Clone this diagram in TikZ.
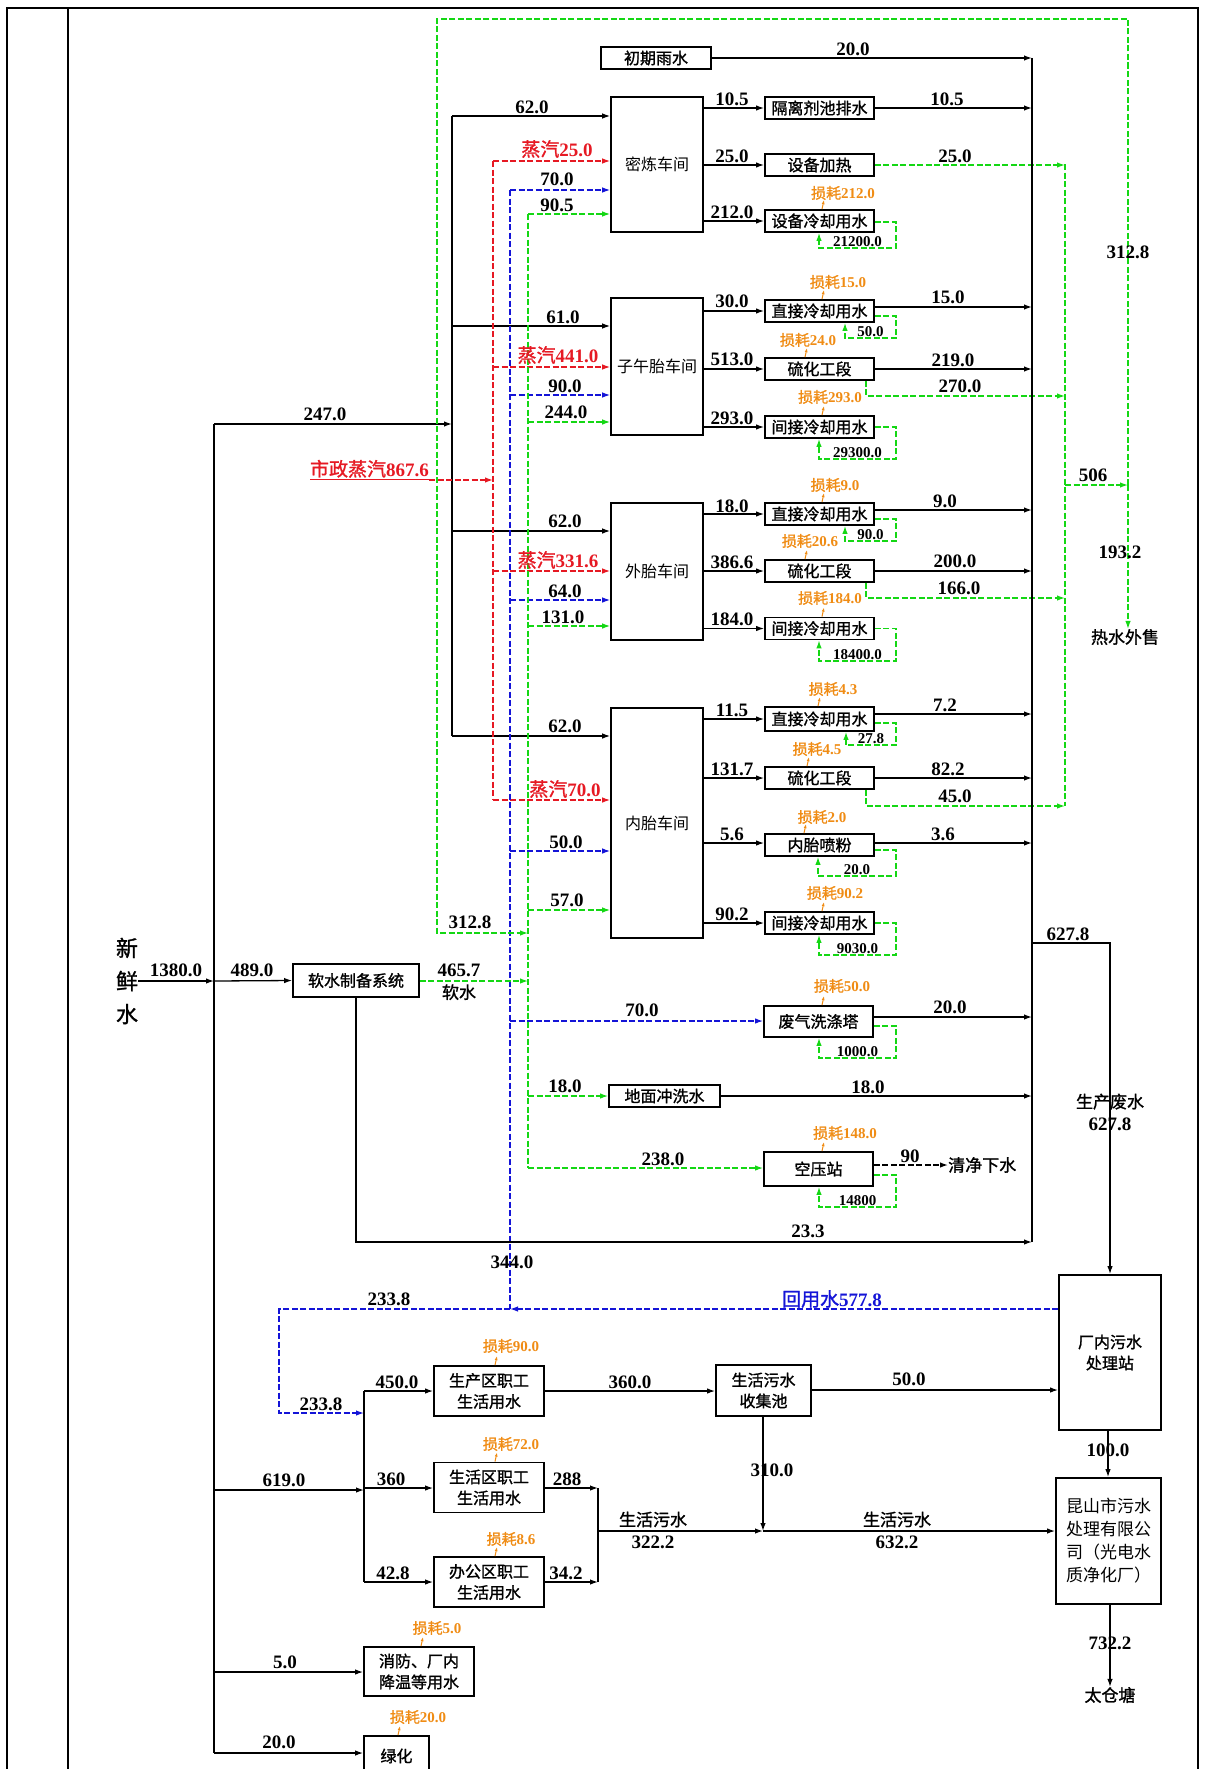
\documentclass[tikz,border=0pt]{standalone}
\usepackage{fontspec}
\setmainfont{Liberation Serif}
\newfontfamily\cjk{Noto Sans CJK SC}
\newfontfamily\cjkb{Noto Sans CJK SC}[FakeBold=1.3]
\usetikzlibrary{arrows.meta}
\definecolor{gr}{RGB}{20,215,20}
\definecolor{bl}{RGB}{20,20,215}
\definecolor{rd}{RGB}{230,25,35}
\definecolor{org}{RGB}{240,140,20}
\newcommand\zhf{\cjkb\mdseries\fontsize{16}{21}\selectfont}
\newcommand\zhw{\cjk\mdseries\fontsize{16}{21}\selectfont}
\newcommand\zhs{\cjkb\mdseries\fontsize{17}{21}\selectfont}
\newcommand\zl[1]{{\cjkb\mdseries #1}}
\newcommand\nf{\bfseries\fontsize{19}{22}\selectfont}
\newcommand\lf{\bfseries\fontsize{15}{17}\selectfont}
\newcommand\nlab[4]{\node[lb] (#1) at (#2,#3) {#4};}
\newcommand\wloop[6]{% name, box, ystart, ybottom, xleft, label
  \draw[gd,tip] (#2.east |- 0,#3) -- (896,#3) -- (896,#4) -- (#5,#4) -- (#2.south -| #5,0);
  \node[lp, anchor=south] (#1) at ({(#5+896)/2},{#4-1.5}) {#6};}
\newcommand\lossm[6]{% name, box, cx, cy, ax, value
  \node[ls] (#1) at (#3,#4) {\zl{损耗}#6};
  \draw[la] (#2.north -| #5,0) -- ++(2,-9);}
\begin{document}
\begin{tikzpicture}[x=1pt,y=-1pt,
  ln/.style={line width=1.3pt},
  tip/.style={-{Latex[length=8pt,width=5.5pt]}},
  gd/.style={line width=1.3pt, draw=gr, dash pattern=on 6pt off 2.5pt},
  bd/.style={line width=1.3pt, draw=bl, dash pattern=on 6pt off 2.5pt},
  rdl/.style={line width=1.3pt, draw=rd, dash pattern=on 6pt off 2.5pt},
  kd/.style={line width=1.3pt, dash pattern=on 6pt off 2.5pt},
  bx/.style={draw, line width=1.8pt, inner sep=0pt, align=center, font=\zhf},
  ws/.style={draw, line width=1.6pt, inner sep=0pt, minimum width=92pt, font=\zhw},
  sb/.style={bx, minimum width=109pt, minimum height=22pt},
  lb/.style={inner sep=0pt, font=\nf},
  lp/.style={inner sep=0pt, font=\lf},
  ls/.style={inner sep=0pt, font=\lf, text=org},
  la/.style={draw=org, line width=1pt, -{Latex[length=4pt,width=3pt]}},
  tx/.style={inner sep=0pt, font=\zhs, align=center},
]
\useasboundingbox (0,0) rectangle (1207,1769);
\fill[white] (0,0) rectangle (1207,1769);
% table frame
\draw[line width=2.2pt] (7,1775) -- (7,8) -- (1198,8) -- (1198,1775);
\draw[line width=1.2pt] (68,8) -- (68,1775);

% ---------- nodes ----------
\node[ws, minimum height=135pt] (mix) at (657,164.5) {密炼车间};
\node[ws, minimum height=137pt] (rad) at (657,366.5) {子午胎车间};
\node[ws, minimum height=137pt] (out) at (657,571.5) {外胎车间};
\node[ws, minimum height=230pt] (inn) at (657,823) {内胎车间};

\node[sb, minimum width=110pt] (rain) at (656,58) {初期雨水};
\node[sb] (iso) at (819.5,108) {隔离剂池排水};
\node[sb] (heat) at (819.5,165) {设备加热};
\node[sb] (eqc) at (819.5,221) {设备冷却用水};
\node[sb] (d1) at (819.5,311) {直接冷却用水};
\node[sb] (s1) at (819.5,369) {硫化工段};
\node[sb] (i1) at (819.5,427) {间接冷却用水};
\node[sb] (d2) at (819.5,514) {直接冷却用水};
\node[sb] (s2) at (819.5,571) {硫化工段};
\node[sb] (i2) at (819.5,628.5) {间接冷却用水};
\node[sb, minimum height=24pt] (d3) at (819.5,719) {直接冷却用水};
\node[sb] (s3) at (819.5,778) {硫化工段};
\node[sb] (p3) at (819.5,845) {内胎喷粉};
\node[sb] (i3) at (819.5,923) {间接冷却用水};
\node[sb, minimum height=31pt] (gas) at (818.5,1021.5) {废气洗涤塔};
\node[sb, minimum width=111pt] (floor) at (664.5,1096) {地面冲洗水};
\node[sb, minimum height=34pt] (air) at (818.5,1169) {空压站};

\node[bx, minimum width=126pt, minimum height=33pt] (soft) at (356,980.5) {软水制备系统};
\node[bx, minimum width=102pt, minimum height=155pt] (ww) at (1110,1352.5) {厂内污水\\处理站};
\node[bx, minimum width=95pt, minimum height=51pt] (pool) at (763.5,1390.5) {生活污水\\收集池};
\node[bx, minimum width=105pt, minimum height=126pt, font=\cjk\fontsize{17}{23}\selectfont] (ks) at (1108.5,1541) {昆山市污水\\处理有限公\\司（光电水\\质净化厂）};
\node[bx, minimum width=110pt, minimum height=50pt] (prod) at (489,1391) {生产区职工\\生活用水};
\node[bx, minimum width=110pt, minimum height=50pt] (life) at (489,1487.5) {生活区职工\\生活用水};
\node[bx, minimum width=110pt, minimum height=50pt] (office) at (489,1582) {办公区职工\\生活用水};
\node[bx, minimum width=110pt, minimum height=49pt] (fire) at (419,1671.5) {消防、厂内\\降温等用水};
\node[bx, minimum width=65pt, minimum height=40pt] (lh) at (396.5,1756) {绿化};

\node[inner sep=0pt, align=center, font=\cjkb\fontsize{22}{33}\selectfont] (fresh) at (127,981) {新\\鲜\\水};
\node[tx] (hot) at (1125,637) {热水外售};
\node[tx, anchor=west] (qj) at (948,1165) {清净下水};
\node[tx] (tc) at (1110,1695) {太仓塘};

% ---------- fresh water ----------
\draw[ln,tip] (fresh.east |- 0,981) -- (214,981);
\draw[ln] (214,424) -- (214,1753);
\draw[ln,tip] (214,981) -- (soft.west);
\draw[ln,tip] (214,424) -- (452,424);
\draw[ln,tip] (214,1490) -- (364,1490);
\draw[ln,tip] (214,1672) -- (fire.west |- 0,1672);
\draw[ln,tip] (214,1753) -- (lh.west |- 0,1753);

% black supply bus
\draw[ln] (452,116) -- (452,736);
\draw[ln,tip] (452,116) -- (mix.west |- 0,116);
\draw[ln,tip] (452,326) -- (rad.west |- 0,326);
\draw[ln,tip] (452,531) -- (out.west |- 0,531);
\draw[ln,tip] (452,736) -- (inn.west |- 0,736);

% steam bus
\draw[rdl] (493,161) -- (493,800);
\draw[rdl,tip] (493,161) -- (mix.west |- 0,161);
\draw[rdl,tip] (493,367) -- (rad.west |- 0,367);
\draw[rdl,tip] (493,571) -- (out.west |- 0,571);
\draw[rdl,tip] (493,800) -- (inn.west |- 0,800);
\node[lb, text=rd, anchor=base east] (ms) at (429,476) {\underline{\zl{市政蒸汽}867.6}};
\draw[rdl,tip] (ms.base east) ++(0,4) -- (493,480);

% reuse water bus
\draw[bd] (510,190) -- (510,1309);
\draw[bd,tip] (510,190) -- (mix.west |- 0,190);
\draw[bd,tip] (510,395) -- (rad.west |- 0,395);
\draw[bd,tip] (510,600) -- (out.west |- 0,600);
\draw[bd,tip] (510,851) -- (inn.west |- 0,851);
\draw[bd,tip] (510,1021) -- (gas.west |- 0,1021);
\draw[bd,tip] (ww.west |- 0,1309) -- (510,1309);
\draw[bd,tip] (510,1309) -- (279,1309) -- (279,1413) -- (364,1413);

% soft water bus
\draw[gd] (528,214) -- (528,1168);
\draw[gd,tip] (528,214) -- (mix.west |- 0,214);
\draw[gd,tip] (528,422) -- (rad.west |- 0,422);
\draw[gd,tip] (528,626) -- (out.west |- 0,626);
\draw[gd,tip] (528,910) -- (inn.west |- 0,910);
\draw[gd,tip] (528,1096) -- (floor.west);
\draw[gd,tip] (528,1168) -- (air.west |- 0,1168);
\draw[gd,tip] (soft.east |- 0,981) -- (528,981);

% hot water loop
\draw[gd] (1065,164) -- (1065,806);
\draw[gd,tip] (heat.east) -- (1065,165);
\draw[gd,tip] (s1.south -| 866,0) -- (866,396) -- (1065,396);
\draw[gd,tip] (s2.south -| 866,0) -- (866,598) -- (1065,598);
\draw[gd,tip] (s3.south -| 866,0) -- (866,806) -- (1065,806);
\draw[gd,tip] (1065,485) -- (1128,485);
\draw[gd,tip] (1128,485) -- (hot.north -| 1128,0);
\draw[gd,tip] (1128,485) -- (1128,19) -- (437,19) -- (437,933) -- (528,933);

% workshop outputs
\draw[ln,tip] (mix.east |- 0,108) -- (iso.west);
\draw[ln,tip] (mix.east |- 0,165) -- (heat.west);
\draw[ln,tip] (mix.east |- 0,221) -- (eqc.west);
\draw[ln,tip] (rad.east |- 0,311) -- (d1.west);
\draw[ln,tip] (rad.east |- 0,369) -- (s1.west);
\draw[ln,tip] (rad.east |- 0,427) -- (i1.west);
\draw[ln,tip] (out.east |- 0,514) -- (d2.west);
\draw[ln,tip] (out.east |- 0,571) -- (s2.west);
\draw[ln,tip] (out.east |- 0,628.5) -- (i2.west);
\draw[ln,tip] (inn.east |- 0,719) -- (d3.west);
\draw[ln,tip] (inn.east |- 0,778) -- (s3.west);
\draw[ln,tip] (inn.east |- 0,843) -- (p3.west |- 0,843);
\draw[ln,tip] (inn.east |- 0,923) -- (i3.west);

% to waste water collector
\draw[ln] (1032,58) -- (1032,1242);
\draw[ln,tip] (rain.east) -- (1032,58);
\draw[ln,tip] (iso.east) -- (1032,108);
\draw[ln,tip] (d1.east |- 0,307) -- (1032,307);
\draw[ln,tip] (s1.east) -- (1032,369);
\draw[ln,tip] (d2.east |- 0,510) -- (1032,510);
\draw[ln,tip] (s2.east) -- (1032,571);
\draw[ln,tip] (d3.east |- 0,714) -- (1032,714);
\draw[ln,tip] (s3.east) -- (1032,778);
\draw[ln,tip] (p3.east |- 0,843) -- (1032,843);
\draw[ln,tip] (gas.east |- 0,1017) -- (1032,1017);
\draw[ln,tip] (floor.east) -- (1032,1096);
\draw[ln,tip] (soft.south) -- (356,1242) -- (1032,1242);
\draw[ln,tip] (1032,943) -- (1110,943) -- (ww.north);
\draw[kd,tip] (air.east |- 0,1165) -- (qj.west);

% circulation loops
\wloop{c1}{eqc}{222}{248}{819}{21200.0}
\wloop{c2}{d1}{316}{338}{845}{50.0}
\wloop{c3}{i1}{427}{459}{819}{29300.0}
\wloop{c4}{d2}{519}{541}{845}{90.0}
\wloop{c5}{i2}{628.5}{661}{819}{18400.0}
\wloop{c6}{d3}{723}{745}{846}{27.8}
\wloop{c7}{p3}{850}{876}{818}{20.0}
\wloop{c8}{i3}{923}{955}{819}{9030.0}
\wloop{c9}{gas}{1026}{1058}{819}{1000.0}
\wloop{c10}{air}{1175}{1207}{819}{14800}

% losses
\lossm{l1}{eqc}{843}{193}{822}{212.0}
\lossm{l2}{d1}{838}{282}{822}{15.0}
\lossm{l3}{s1}{808}{340}{805}{24.0}
\lossm{l4}{i1}{830}{397}{822}{293.0}
\lossm{l5}{d2}{835}{485}{822}{9.0}
\lossm{l6}{s2}{810}{541}{805}{20.6}
\lossm{l7}{i2}{830}{598}{822}{184.0}
\lossm{l8}{d3}{833}{689}{818}{4.3}
\lossm{l9}{s3}{817}{749}{807}{4.5}
\lossm{l10}{p3}{822}{817}{804}{2.0}
\lossm{l11}{i3}{835}{893}{822}{90.2}
\lossm{l12}{gas}{842}{986}{822}{50.0}
\lossm{l13}{air}{845}{1133}{822}{148.0}
\lossm{l14}{prod}{511}{1346}{495}{90.0}
\lossm{l15}{life}{511}{1444}{495}{72.0}
\lossm{l16}{office}{511}{1539}{495}{8.6}
\lossm{l17}{fire}{437}{1628}{421}{5.0}
\lossm{l18}{lh}{418}{1717}{398}{20.0}

% domestic water
\draw[ln] (364,1391) -- (364,1582);
\draw[ln,tip] (364,1391) -- (prod.west);
\draw[ln,tip] (364,1488) -- (life.west |- 0,1488);
\draw[ln,tip] (364,1582) -- (office.west);
\draw[ln,tip] (prod.east) -- (pool.west |- 0,1391);
\draw[ln,tip] (life.east |- 0,1488) -- (598,1488);
\draw[ln,tip] (office.east) -- (598,1582);
\draw[ln] (598,1488) -- (598,1582);
\draw[ln,tip] (598,1531) -- (763,1531);
\draw[ln,tip] (pool.south -| 763,0) -- (763,1531);
\draw[ln,tip] (763,1531) -- (ks.west |- 0,1531);
\draw[ln,tip] (pool.east |- 0,1390) -- (ww.west |- 0,1390);
\draw[ln,tip] (ww.south -| 1108,0) -- (ks.north -| 1108,0);
\draw[ln,tip] (ks.south -| 1110,0) -- (tc.north);

% ---------- labels ----------
\nlab{a1}{532}{107}{62.0}
\nlab{a2}{563}{317}{61.0}
\nlab{a3}{565}{521}{62.0}
\nlab{a4}{565}{726}{62.0}
\nlab{a5}{325}{414}{247.0}
\node[lb, text=rd] (r1) at (557,149) {\zl{蒸汽}25.0};
\node[lb, text=rd] (r2) at (558,355) {\zl{蒸汽}441.0};
\node[lb, text=rd] (r3) at (558,560) {\zl{蒸汽}331.6};
\node[lb, text=rd] (r4) at (565,789) {\zl{蒸汽}70.0};
\nlab{b1}{557}{179}{70.0}
\nlab{b2}{565}{386}{90.0}
\nlab{b3}{565}{591}{64.0}
\nlab{b4}{566}{842}{50.0}
\nlab{b5}{642}{1010}{70.0}
\nlab{g1}{557}{205}{90.5}
\nlab{g2}{566}{412}{244.0}
\nlab{g3}{563}{617}{131.0}
\nlab{g4}{567}{900}{57.0}
\nlab{g5}{565}{1086}{18.0}
\nlab{g6}{663}{1159}{238.0}
\nlab{g7}{470}{922}{312.8}
\node[lb, align=center] (g8) at (459,982) {465.7\\{\zhs 软水}};
\nlab{o1}{732}{99}{10.5}
\nlab{o2}{732}{156}{25.0}
\nlab{o3}{732}{212}{212.0}
\nlab{o4}{732}{301}{30.0}
\nlab{o5}{732}{359}{513.0}
\nlab{o6}{732}{418}{293.0}
\nlab{o7}{732}{506}{18.0}
\nlab{o8}{732}{562}{386.6}
\nlab{o9}{732}{619}{184.0}
\nlab{o10}{732}{710}{11.5}
\nlab{o11}{732}{769}{131.7}
\nlab{o12}{732}{834}{5.6}
\nlab{o13}{732}{914}{90.2}
\nlab{w1}{853}{49}{20.0}
\nlab{w2}{947}{99}{10.5}
\nlab{w3}{955}{156}{25.0}
\nlab{w4}{948}{297}{15.0}
\nlab{w5}{953}{360}{219.0}
\nlab{w6}{960}{386}{270.0}
\nlab{w7}{945}{501}{9.0}
\nlab{w8}{955}{561}{200.0}
\nlab{w9}{959}{588}{166.0}
\nlab{w10}{945}{705}{7.2}
\nlab{w11}{948}{769}{82.2}
\nlab{w12}{955}{796}{45.0}
\nlab{w13}{943}{834}{3.6}
\nlab{w14}{950}{1007}{20.0}
\nlab{w15}{868}{1087}{18.0}
\nlab{w16}{910}{1156}{90}
\nlab{w17}{808}{1231}{23.3}
\nlab{w18}{1068}{934}{627.8}
\nlab{h1}{1128}{252}{312.8}
\nlab{h2}{1093}{475}{506}
\nlab{h3}{1120}{552}{193.2}
\node[lb, align=center] (w19) at (1110,1112) {{\zhs 生产废水}\\627.8};
\nlab{m1}{512}{1262}{344.0}
\nlab{m2}{389}{1299}{233.8}
\nlab{m3}{321}{1404}{233.8}
\node[lb, text=bl] (m4) at (832,1299) {\zl{回用水}577.8};
\nlab{f1}{176}{970}{1380.0}
\nlab{f2}{252}{970}{489.0}
\nlab{f3}{284}{1480}{619.0}
\nlab{f4}{397}{1382}{450.0}
\nlab{f5}{391}{1479}{360}
\nlab{f6}{393}{1573}{42.8}
\nlab{f7}{630}{1382}{360.0}
\nlab{f8}{567}{1479}{288}
\nlab{f9}{566}{1573}{34.2}
\node[lb, align=center] (f10) at (653,1530) {{\zhs 生活污水}\\322.2};
\nlab{f11}{909}{1379}{50.0}
\nlab{f12}{1108}{1450}{100.0}
\nlab{f13}{772}{1470}{310.0}
\node[lb, align=center] (f14) at (897,1530) {{\zhs 生活污水}\\632.2};
\nlab{f15}{1110}{1643}{732.2}
\nlab{f16}{285}{1662}{5.0}
\nlab{f17}{279}{1742}{20.0}
\end{tikzpicture}
\end{document}
